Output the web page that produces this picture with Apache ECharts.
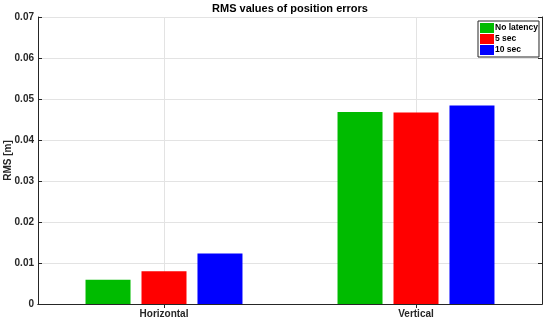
<!DOCTYPE html>
<html><head><meta charset="utf-8">
<script src="https://cdn.jsdelivr.net/npm/echarts@6/dist/echarts.min.js"></script>
<style>html,body{margin:0;padding:0;background:#fff}#c{width:550px;height:323px}</style>
</head><body><div id="c"></div>
<script>
const categories = ['Horizontal', 'Vertical'];
const seriesNames = ['No latency', '5 sec', '10 sec'];
const noLatency = [0.0059, 0.0468];
const sec5 = [0.0080, 0.0467];
const sec10 = [0.0123, 0.0484];
const yTicks = [0, 0.01, 0.02, 0.03, 0.04, 0.05, 0.06, 0.07];
const title = 'RMS values of position errors';
const yName = 'RMS [m]';

const colors = ['#00BB00', '#FF0000', '#0000FF'];
const axisColor = '#262626';
const gridColor = '#E3E3E3';
const font = 'Liberation Sans';
const values = [noLatency, sec5, sec10];

const chart = echarts.init(document.getElementById('c'), null, {renderer: 'canvas'});
const helperCats = ['a', categories[0], 'b', categories[1], 'c'];
const option = {
  animation: false,
  backgroundColor: '#fff',
  title: {
    text: title, left: 290, textAlign: 'center', top: 3, padding: 0,
    textStyle: {fontFamily: font, fontSize: 11, fontWeight: 'bold', color: '#000'}
  },
  legend: {
    data: seriesNames, orient: 'vertical', left: 478, top: 21,
    itemWidth: 14, itemHeight: 10, itemGap: 1,
    padding: [2, 1, 2, 2], borderColor: axisColor, borderWidth: 1,
    backgroundColor: '#fff',
    textStyle: {fontFamily: font, fontSize: 8.5, fontWeight: 'bold', color: '#000', padding: [0, 0, 0, -4]},
    icon: 'rect'
  },
  grid: {left: 38, right: 8, top: 17, bottom: 19, containLabel: false, outerBoundsMode: 'none'},
  xAxis: [
    {
      type: 'category', data: categories, position: 'bottom',
      axisLine: {lineStyle: {color: axisColor, width: 1}},
      axisTick: {show: true, inside: true, alignWithLabel: true, length: 4, lineStyle: {color: axisColor}},
      axisLabel: {fontFamily: font, fontSize: 10, fontWeight: 'bold', color: axisColor, margin: 5},
      splitLine: {show: false}
    },
    {
      type: 'category', data: helperCats, position: 'top', boundaryGap: false,
      axisLine: {show: true, lineStyle: {color: axisColor, width: 1}},
      axisTick: {show: true, inside: true, length: 4, interval: (i) => i % 2 === 1, lineStyle: {color: axisColor}},
      axisLabel: {show: false},
      splitLine: {show: true, interval: (i) => i % 2 === 1, lineStyle: {color: gridColor, width: 1}}
    }
  ],
  yAxis: [
    {
      type: 'value', min: yTicks[0], max: yTicks[yTicks.length - 1], interval: 0.01,
      name: yName, nameLocation: 'middle', nameGap: 25, nameRotate: 90, nameMoveOverlap: false,
      nameTextStyle: {fontFamily: font, fontSize: 10, fontWeight: 'bold', color: axisColor},
      axisLine: {show: true, lineStyle: {color: axisColor, width: 1}},
      axisTick: {show: true, inside: true, length: 4, lineStyle: {color: axisColor}},
      axisLabel: {fontFamily: font, fontSize: 10, fontWeight: 'bold', color: axisColor, margin: 4,
        formatter: (v) => { const t = yTicks.find(x => Math.abs(x - v) < 1e-9); return t === undefined ? '' : String(t); }},
      splitLine: {show: true, lineStyle: {color: gridColor, width: 1}}
    },
    {
      type: 'value', min: yTicks[0], max: yTicks[yTicks.length - 1], interval: 0.01, position: 'right',
      axisLine: {show: true, lineStyle: {color: axisColor, width: 1}},
      axisTick: {show: true, inside: true, length: 4, lineStyle: {color: axisColor}},
      axisLabel: {show: false},
      splitLine: {show: false}
    }
  ],
  series: seriesNames.map((n, k) => ({
    name: n, type: 'bar', xAxisIndex: 0, yAxisIndex: 0,
    data: values[k], barWidth: 45, barGap: '24.4%',
    itemStyle: {color: colors[k]}
  }))
};
chart.setOption(option);
</script></body></html>
